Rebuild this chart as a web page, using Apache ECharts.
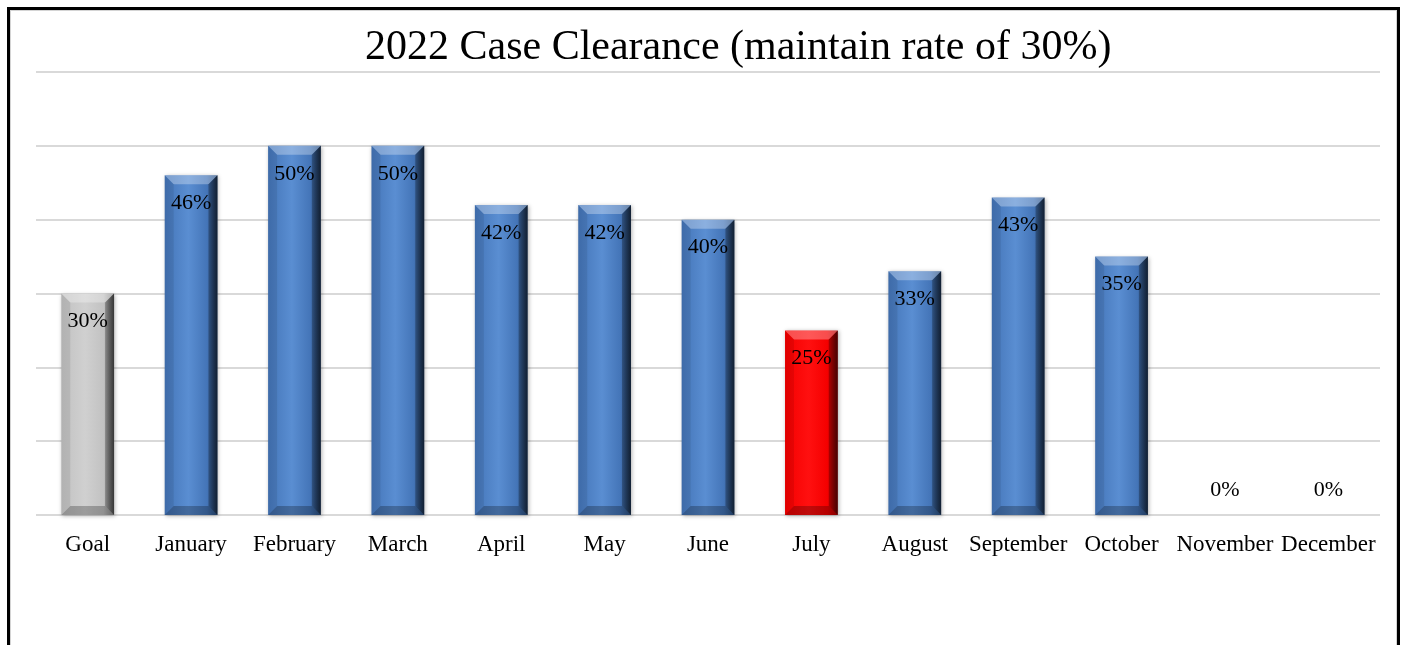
<!DOCTYPE html>
<html>
<head>
<meta charset="utf-8">
<script src="https://cdn.jsdelivr.net/npm/echarts@6/dist/echarts.min.js"></script>
<style>
  html, body { margin: 0; padding: 0; background: #fff; }
  #chart { width: 1406px; height: 645px; }
  .frame {
    position: absolute; left: 7px; top: 7px; width: 1387px; height: 700px;
    border: 3px solid #000; border-bottom: none; pointer-events: none;
  }
  .frame-inner {
    position: absolute; left: 10px; top: 10px; width: 1385px; height: 700px;
    border: 1px solid #d4d4d4; border-bottom: none; pointer-events: none;
  }
</style>
</head>
<body>
<div id="chart"></div>
<div class="frame"></div>
<div class="frame-inner"></div>
<script>
  const categories = ['Goal', 'January', 'February', 'March', 'April', 'May', 'June',
    'July', 'August', 'September', 'October', 'November', 'December']
  const rates = [30, 46, 50, 50, 42, 42, 40, 25, 33, 43, 35, 0, 0]
  const goalRate = 30
  const yTicks = [0, 10, 20, 30, 40, 50, 60]

  const serif = '"Liberation Serif", "Times New Roman", serif'

  const fillFor = (base, light, dark) => new echarts.graphic.LinearGradient(0, 0, 1, 0, [
    { offset: 0, color: base },
    { offset: 0.45, color: light },
    { offset: 0.8, color: base },
    { offset: 1, color: dark }
  ])

  const goalFill = fillFor('#c2c2c2', '#d0d0d0', '#8a8a8a')
  const lowFill = fillFor('#f50000', '#ff1010', '#b00000')
  const okFill = fillFor('#4475b8', '#5a8ed2', '#2c4f7e')

  const barData = rates.map((v, i) => {
    let fill = okFill
    if (i === 0) fill = goalFill
    else if (v > 0 && v < goalRate) fill = lowFill
    const item = { value: v, itemStyle: { color: fill } }
    if (v === 0) item.label = { position: 'top', distance: 14 }
    return item
  })

  const bevelData = rates.map((v, i) => [i, v])

  const chart = echarts.init(document.getElementById('chart'))

  chart.setOption({
    animation: false,
    title: {
      text: '2022 Case Clearance (maintain rate of 30%)',
      left: 360,
      top: 22,
      textStyle: { fontFamily: serif, fontSize: 42, fontWeight: 'normal', color: '#000' }
    },
    grid: { left: 36, right: 26, top: 72, bottom: 130, containLabel: false },
    xAxis: {
      type: 'category',
      data: categories,
      axisLine: { show: false },
      axisTick: { show: false },
      axisLabel: { color: '#000', fontFamily: serif, fontSize: 23, margin: 18, interval: 0 }
    },
    yAxis: {
      type: 'value',
      min: yTicks[0],
      max: yTicks[yTicks.length - 1],
      interval: 10,
      axisLabel: { show: false },
      axisLine: { show: false },
      axisTick: { show: false },
      splitLine: { lineStyle: { color: '#d9d9d9', width: 2 } }
    },
    series: [
      {
        type: 'bar',
        data: barData,
        barWidth: '51%',
        itemStyle: {
          shadowBlur: 4,
          shadowOffsetX: 1,
          shadowOffsetY: 1,
          shadowColor: 'rgba(0,0,0,0.3)'
        },
        label: {
          show: true,
          position: 'insideTop',
          distance: 17,
          formatter: p => p.value + '%',
          color: '#000',
          fontFamily: serif,
          fontSize: 22
        }
      },
      {
        type: 'custom',
        data: bevelData,
        encode: { x: 0, y: 1 },
        silent: true,
        z: 3,
        renderItem: (params, api) => {
          const v = api.value(1)
          if (!v) return null
          const top = api.coord([api.value(0), v])
          const bottom = api.coord([api.value(0), 0])
          const w = api.size([1, 0])[0] * 0.51
          const x0 = top[0] - w / 2
          const x1 = top[0] + w / 2
          const y0 = top[1]
          const y1 = bottom[1]
          const b = 9
          return {
            type: 'group',
            children: [
              {
                type: 'polygon',
                shape: { points: [[x0, y0], [x1, y0], [x1 - b, y0 + b], [x0 + b, y0 + b]] },
                style: { fill: 'rgba(255,255,255,0.3)' }
              },
              {
                type: 'polygon',
                shape: { points: [[x1, y0], [x1, y1], [x1 - b, y1 - b], [x1 - b, y0 + b]] },
                style: {
                  fill: new echarts.graphic.LinearGradient(0, 0, 1, 0, [
                    { offset: 0, color: 'rgba(0,0,0,0.25)' },
                    { offset: 1, color: 'rgba(0,0,0,0.6)' }
                  ])
                }
              },
              {
                type: 'polygon',
                shape: { points: [[x0, y1], [x1, y1], [x1 - b, y1 - b], [x0 + b, y1 - b]] },
                style: { fill: 'rgba(0,0,0,0.25)' }
              },
              {
                type: 'polygon',
                shape: { points: [[x0, y0], [x0 + b, y0 + b], [x0 + b, y1 - b], [x0, y1]] },
                style: { fill: 'rgba(0,0,0,0.08)' }
              }
            ]
          }
        }
      }
    ]
  })
</script>
</body>
</html>
